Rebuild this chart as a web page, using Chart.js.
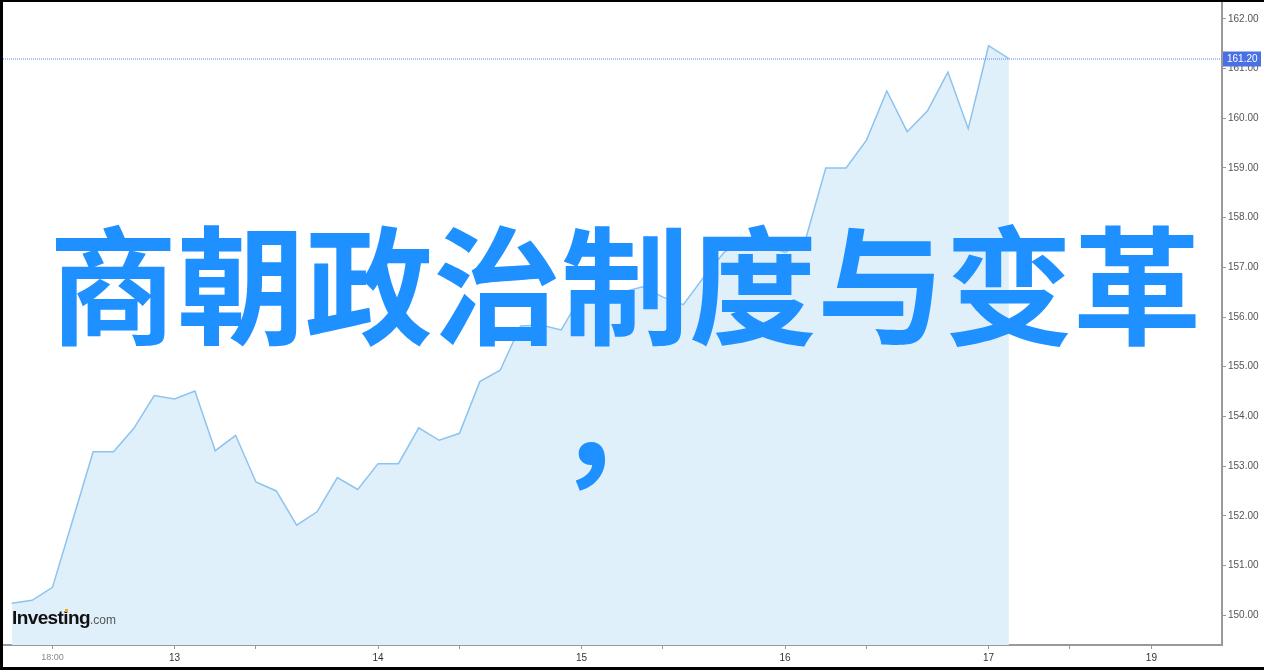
<!DOCTYPE html>
<html>
<head>
<meta charset="utf-8">
<script src="https://cdn.jsdelivr.net/npm/chart.js@4.4.1/dist/chart.umd.min.js"></script>
<style>
  body { margin: 0; background: #000; width: 1264px; height: 670px; overflow: hidden; position: relative; }
  #frame { position: absolute; left: 3px; top: 2px; width: 1261px; height: 665px; background: #fff; }
  .title { position: absolute; width: 1264px; text-align: center; font-family: "Noto Sans CJK SC", sans-serif;
           font-weight: 700; font-size: 128px; line-height: 140px; color: #1e90ff; white-space: nowrap; }
  #logo { position: absolute; left: 12px; top: 607px; font-family: "Liberation Sans", Arial, sans-serif; white-space: nowrap; }
  #logo b { font-size: 19px; color: #111; letter-spacing: -0.6px; }
  #logo span { font-size: 12px; color: #555; }
  #dot { position: absolute; left: 65px; top: 609px; width: 3px; height: 3px; background: #f5a623; }
</style>
</head>
<body>
<div id="frame"><canvas id="chart" width="1261" height="665"></canvas></div>
<div id="logo"><b>Investing</b><span>.com</span></div>
<div id="dot"></div>
<div class="title" style="left:-7px; top:210px">商朝政治制度与变革</div>
<div class="title" style="left:-13px; top:348px">，</div>
<script>
// price series, one value per bar
var prices = [150.24, 150.30, 150.56, 151.92, 153.29, 153.29, 153.76, 154.42, 154.35, 154.51,
              153.31, 153.62, 152.68, 152.50, 151.81, 152.08, 152.77, 152.53, 153.05, 153.05,
              153.77, 153.52, 153.66, 154.70, 154.93, 155.82, 155.84, 155.74, 156.44, 156.30,
              156.50, 156.61, 156.40, 156.25, 156.80, 157.30, 157.55, 157.45, 157.30, 157.55,
              159.00, 159.00, 159.56, 160.55, 159.73, 160.15, 160.93, 159.79, 161.46, 161.20];
// x axis ticks (position in bars) and their labels
var xTickPos    = [2, 8, 12, 18, 22, 28, 32, 38, 42, 48, 52, 56];
var xTickLabels = ['18:00', '13', '', '14', '', '15', '', '16', '', '17', '', '19'];
var yTicks = [150, 151, 152, 153, 154, 155, 156, 157, 158, 159, 160, 161, 162];
var lastPrice = 161.20;

var points = prices.map(function(v, i) { return {x: i, y: v}; });

var priceLine = {
  id: 'priceLine',
  afterDraw: function(chart) {
    var c = chart.ctx, area = chart.chartArea;
    var y = Math.round(chart.scales.y.getPixelForValue(lastPrice));
    c.save();
    c.strokeStyle = '#5b86f5';
    c.lineWidth = 1;
    c.setLineDash([1, 1]);
    c.beginPath();
    c.moveTo(area.left, y);
    c.lineTo(area.right, y);
    c.stroke();
    c.setLineDash([]);
    c.fillStyle = '#4a70e6';
    c.fillRect(area.right + 1, y - 7.5, 38, 15);
    c.fillStyle = '#fff';
    c.font = '10px "Liberation Sans", Arial, sans-serif';
    c.textBaseline = 'middle';
    c.fillText(lastPrice.toFixed(2), area.right + 5, y + 0.5);
    c.restore();
  }
};

new Chart(document.getElementById('chart'), {
  type: 'line',
  data: {
    datasets: [{
      data: points,
      borderColor: '#8cc3ef',
      borderWidth: 1.5,
      backgroundColor: '#e0f0fa',
      fill: 'start',
      tension: 0,
      pointRadius: 0
    }]
  },
  options: {
    responsive: false,
    animation: false,
    devicePixelRatio: 1,
    layout: { padding: 0 },
    plugins: { legend: { display: false }, tooltip: { enabled: false } },
    scales: {
      x: {
        type: 'linear',
        min: -0.43, max: 59.47,
        afterBuildTicks: function(s) { s.ticks = xTickPos.map(function(v) { return {value: v}; }); },
        afterFit: function(s) { s.height = 22; s.paddingLeft = 0; s.paddingRight = 0; },
        grid: { drawOnChartArea: false, drawTicks: true, tickLength: 4, color: '#999' },
        border: { color: '#999', width: 2 },
        ticks: {
          autoSkip: false, maxRotation: 0, padding: 3,
          callback: function(v) { return xTickLabels[xTickPos.indexOf(v)]; },
          color: function(c) { return c.tick && c.tick.value === 2 ? '#888' : '#333'; },
          font: function(c) { return c.tick && c.tick.value === 2 ? {family: 'Liberation Sans', size: 9} : {family: 'Liberation Sans', size: 10}; }
        }
      },
      y: {
        position: 'right',
        min: 149.40, max: 162.34,
        afterBuildTicks: function(s) { s.ticks = yTicks.map(function(v) { return {value: v}; }); },
        afterFit: function(s) { s.width = 42; s.paddingTop = 0; s.paddingBottom = 0; },
        grid: { drawOnChartArea: false, drawTicks: true, tickLength: 4, color: '#999' },
        border: { color: '#999', width: 2 },
        ticks: {
          padding: 2, color: '#555',
          font: { family: 'Liberation Sans', size: 10 },
          callback: function(v) { return v.toFixed(2); }
        }
      }
    }
  },
  plugins: [priceLine]
});
</script>
</body>
</html>
